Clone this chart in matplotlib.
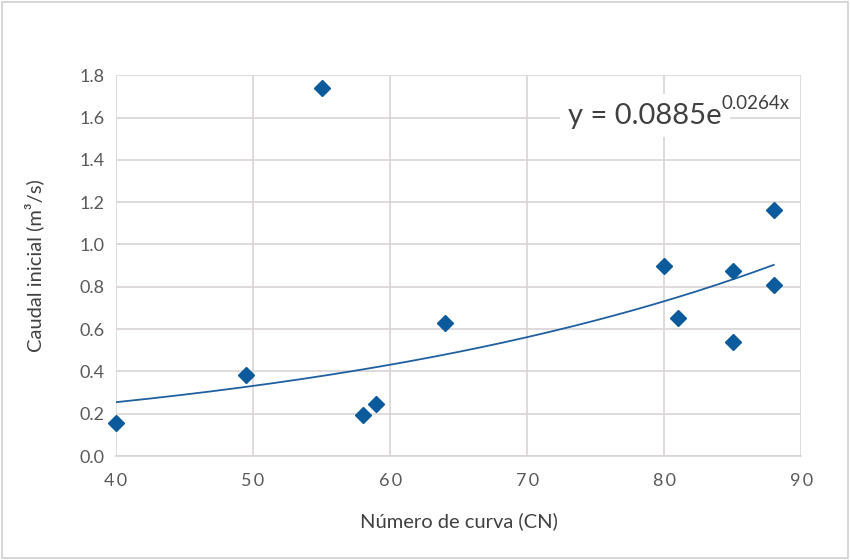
import numpy as np
import matplotlib
matplotlib.use("Agg")
import matplotlib.pyplot as plt
from matplotlib.patches import Rectangle

cn = [40, 49.5, 55, 58, 59, 64, 80, 81, 85, 85, 88, 88]
caudal = [0.155, 0.385, 1.74, 0.195, 0.245, 0.63, 0.90, 0.65, 0.875, 0.54, 1.165, 0.81]
coef_a = 0.0885
coef_b = 0.0264
x_ticks = [40, 50, 60, 70, 80, 90]
y_ticks = [0.0, 0.2, 0.4, 0.6, 0.8, 1.0, 1.2, 1.4, 1.6, 1.8]

plt.rcParams['font.family'] = ['Lato', 'DejaVu Sans']

fig = plt.figure(figsize=(8.5, 5.6), dpi=100)
ax = fig.add_axes([0.1365, 0.1857, 0.806, 0.680])

grid_c = '#D9D3D6'
ax.set_xlim(40, 90)
ax.set_ylim(0, 1.8)
ax.set_xticks(x_ticks)
ax.set_yticks(y_ticks)
ax.set_xticklabels(["\u2009".join(f"{v}") for v in x_ticks])
ax.set_yticklabels([f"{v:.1f}" for v in y_ticks])
ax.grid(True, color=grid_c, linewidth=1.2)
ax.set_axisbelow(True)
for s in ['top', 'left', 'right']:
    ax.spines[s].set_visible(False)
ax.spines['bottom'].set_color(grid_c)
ax.spines['bottom'].set_linewidth(1.2)
ax.tick_params(length=0, colors='#595959', labelsize=13)
ax.tick_params(axis='x', pad=12)
ax.tick_params(axis='y', pad=8)

xs = np.linspace(min(cn), max(cn), 200)
ax.plot(xs, coef_a * np.exp(coef_b * xs), color='#2060A0', linewidth=1.3, zorder=2)
ax.plot(cn, caudal, linestyle='none', marker='D', markersize=8.5,
        color='#0A5A9C', zorder=3, clip_on=False)

ax.set_xlabel('Número de curva (CN)', fontsize=14.5, color='#404040', labelpad=17)
ax.set_ylabel('Caudal inicial (m³/s)', fontsize=14.5, color='#404040', labelpad=26)

t = ax.text(0.66, 0.873, f'y = {coef_a}e', transform=ax.transAxes, fontsize=21,
            color='#404040', va='baseline', ha='left',
            bbox=dict(facecolor='white', edgecolor='none', pad=6))
ax.annotate(f'{coef_b}x', xy=(1.0, 0.62), xycoords=t, fontsize=13.5,
            color='#404040', va='bottom', ha='left')

fig.patches.append(Rectangle((0.002, 0.003), 0.996, 0.994, transform=fig.transFigure,
                             fill=False, edgecolor='#D0D0D0', linewidth=1.2))

fig.savefig('out.png', dpi=100)
